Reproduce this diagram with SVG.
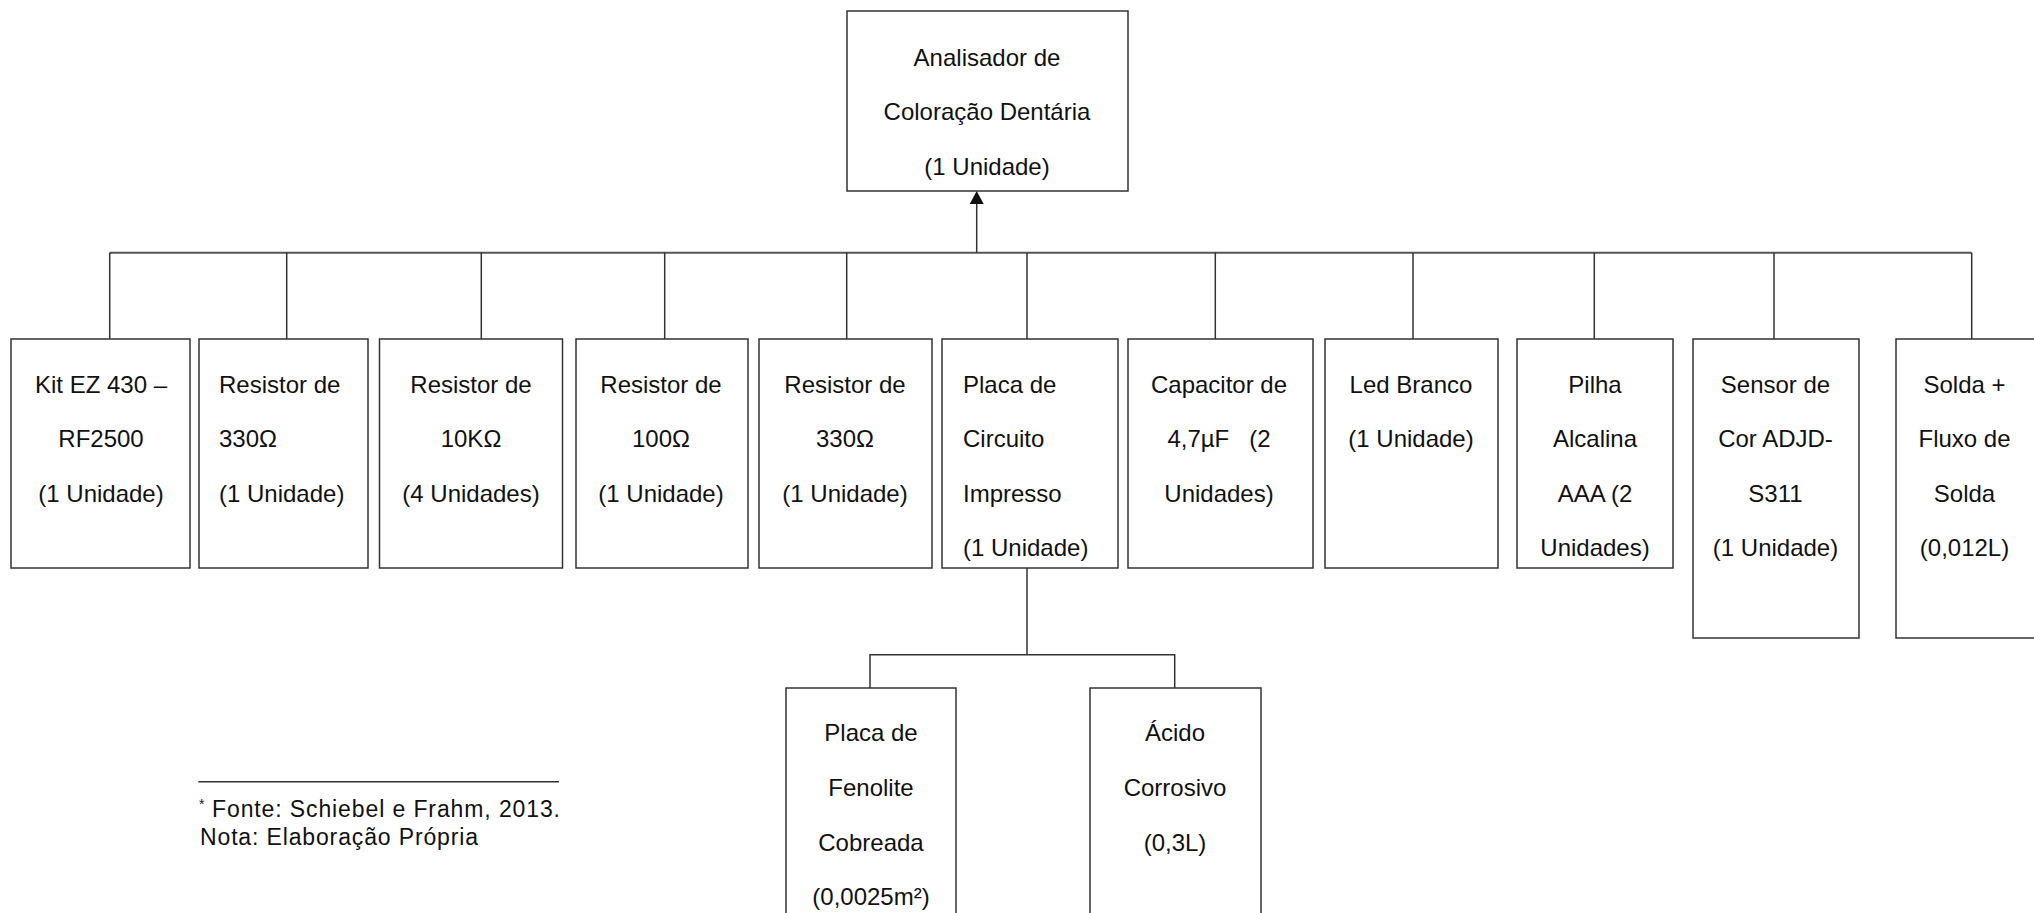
<svg xmlns="http://www.w3.org/2000/svg" width="2034" height="913" viewBox="0 0 2034 913">
<style>
rect.box{fill:#fff;stroke:#333;stroke-width:1.5}
text{font-family:"Liberation Sans",Arial,sans-serif;font-size:24px;fill:#111}
text.c{text-anchor:middle}
text.fn{font-size:23px}
.conn line,.conn polyline{stroke:#333;stroke-width:1.5;fill:none}
.conn .bus{stroke:#555;stroke-width:2}
</style>
<rect width="2034" height="913" fill="#fff"/>
<g id="connectors" class="conn">
<line class="bus" x1="109.7" y1="252.7" x2="1971.7" y2="252.7"/>
<line x1="976.7" y1="252.7" x2="976.7" y2="204"/>
<path d="M976.7,191 L983.7,204 L969.7,204 Z" fill="#111"/>
<line x1="109.7" y1="252.7" x2="109.7" y2="339"/>
<line x1="286.7" y1="252.7" x2="286.7" y2="339"/>
<line x1="481.3" y1="252.7" x2="481.3" y2="339"/>
<line x1="664.7" y1="252.7" x2="664.7" y2="339"/>
<line x1="846.7" y1="252.7" x2="846.7" y2="339"/>
<line x1="1027" y1="252.7" x2="1027" y2="339"/>
<line x1="1215.3" y1="252.7" x2="1215.3" y2="339"/>
<line x1="1413" y1="252.7" x2="1413" y2="339"/>
<line x1="1594.3" y1="252.7" x2="1594.3" y2="339"/>
<line x1="1774" y1="252.7" x2="1774" y2="339"/>
<line x1="1971.7" y1="252.7" x2="1971.7" y2="339"/>
<line x1="1027" y1="568" x2="1027" y2="654.7"/>
<polyline points="870,688 870,654.7 1174.7,654.7 1174.7,688"/>
</g>
<g id="n-root">
<rect class="box" x="847" y="11" width="281" height="180"/>
<text class="c" x="987" y="65.7">Analisador de</text>
<text class="c" x="987" y="120">Coloração Dentária</text>
<text class="c" x="987" y="174.5">(1 Unidade)</text>
</g>
<g id="n-kit">
<rect class="box" x="11" y="339" width="179" height="229"/>
<text class="c" x="101" y="392.5">Kit EZ 430 –</text>
<text class="c" x="101" y="447">RF2500</text>
<text class="c" x="101" y="501.5">(1 Unidade)</text>
</g>
<g id="n-res330a">
<rect class="box" x="199" y="339" width="169" height="229"/>
<text x="219" y="392.5">Resistor de</text>
<text x="219" y="447">330Ω</text>
<text x="219" y="501.5">(1 Unidade)</text>
</g>
<g id="n-res10k">
<rect class="box" x="379.5" y="339" width="183" height="229"/>
<text class="c" x="471" y="392.5">Resistor de</text>
<text class="c" x="471" y="447">10KΩ</text>
<text class="c" x="471" y="501.5">(4 Unidades)</text>
</g>
<g id="n-res100">
<rect class="box" x="576" y="339" width="172" height="229"/>
<text class="c" x="661" y="392.5">Resistor de</text>
<text class="c" x="661" y="447">100Ω</text>
<text class="c" x="661" y="501.5">(1 Unidade)</text>
</g>
<g id="n-res330b">
<rect class="box" x="759" y="339" width="173" height="229"/>
<text class="c" x="845" y="392.5">Resistor de</text>
<text class="c" x="845" y="447">330Ω</text>
<text class="c" x="845" y="501.5">(1 Unidade)</text>
</g>
<g id="n-placa">
<rect class="box" x="942" y="339" width="176" height="229"/>
<text x="963" y="392.5">Placa de</text>
<text x="963" y="447">Circuito</text>
<text x="963" y="501.5">Impresso</text>
<text x="963" y="556">(1 Unidade)</text>
</g>
<g id="n-capacitor">
<rect class="box" x="1128" y="339" width="185" height="229"/>
<text class="c" x="1219" y="392.5">Capacitor de</text>
<text class="c" x="1219" y="447" xml:space="preserve">4,7µF   (2</text>
<text class="c" x="1219" y="501.5">Unidades)</text>
</g>
<g id="n-led">
<rect class="box" x="1325" y="339" width="173" height="229"/>
<text class="c" x="1411" y="392.5">Led Branco</text>
<text class="c" x="1411" y="447">(1 Unidade)</text>
</g>
<g id="n-pilha">
<rect class="box" x="1517" y="339" width="156" height="229"/>
<text class="c" x="1595" y="392.5">Pilha</text>
<text class="c" x="1595" y="447">Alcalina</text>
<text class="c" x="1595" y="501.5">AAA (2</text>
<text class="c" x="1595" y="556">Unidades)</text>
</g>
<g id="n-sensor">
<rect class="box" x="1693" y="339" width="166" height="299"/>
<text class="c" x="1775.5" y="392.5">Sensor de</text>
<text class="c" x="1775.5" y="447">Cor ADJD-</text>
<text class="c" x="1775.5" y="501.5">S311</text>
<text class="c" x="1775.5" y="556">(1 Unidade)</text>
</g>
<g id="n-solda">
<rect class="box" x="1896" y="339" width="145" height="299"/>
<text class="c" x="1964.5" y="392.5">Solda +</text>
<text class="c" x="1964.5" y="447">Fluxo de</text>
<text class="c" x="1964.5" y="501.5">Solda</text>
<text class="c" x="1964.5" y="556">(0,012L)</text>
</g>
<g id="n-fenolite">
<rect class="box" x="786" y="688" width="170" height="240"/>
<text class="c" x="871" y="741">Placa de</text>
<text class="c" x="871" y="796">Fenolite</text>
<text class="c" x="871" y="850.5">Cobreada</text>
<text class="c" x="871" y="905">(0,0025m²)</text>
</g>
<g id="n-acido">
<rect class="box" x="1090" y="688" width="171" height="240"/>
<text class="c" x="1175" y="741">Ácido</text>
<text class="c" x="1175" y="796">Corrosivo</text>
<text class="c" x="1175" y="850.5">(0,3L)</text>
</g>
<g id="footnote">
<line x1="198.3" y1="781.7" x2="559" y2="781.7" stroke="#333" stroke-width="1.5"/>
<text x="199" y="809" style="font-size:14px">*</text>
<text class="fn" x="212" y="817.3" textLength="348" lengthAdjust="spacing">Fonte: Schiebel e Frahm, 2013.</text>
<text class="fn" x="200" y="845" textLength="278" lengthAdjust="spacing">Nota: Elaboração Própria</text>
</g>
</svg>
